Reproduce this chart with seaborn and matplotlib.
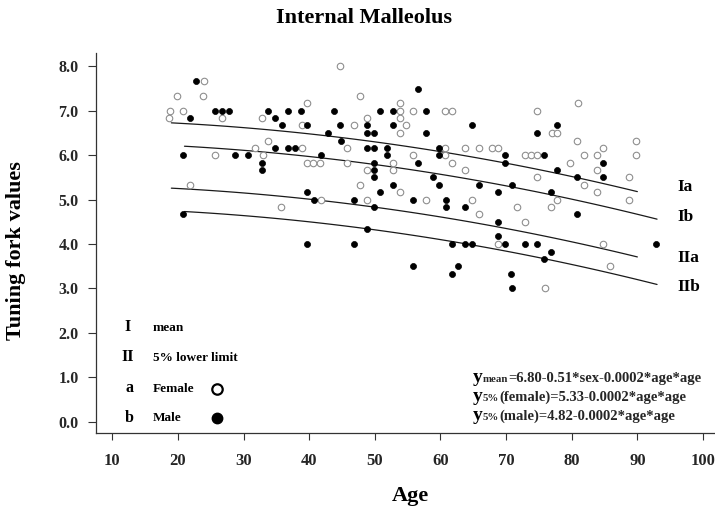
import numpy as np
import pandas as pd
import matplotlib
matplotlib.use("Agg")
import matplotlib.pyplot as plt
import seaborn as sns

# ---------------- data ----------------
female_age = [44.7, 23.9, 19.8, 23.8, 47.7, 39.7, 53.8, 18.8, 20.8, 53.8, 55.8, 18.7, 26.7, 32.8,
              48.8, 53.8, 38.9, 46.8, 54.8, 53.8, 33.8, 31.7, 38.9, 45.8, 25.6, 33.0, 55.8, 39.6,
              40.6, 41.6, 45.8, 52.7, 48.8, 52.7, 21.8, 47.7, 53.8, 41.75, 48.8, 35.7,
              80.9, 60.7, 61.7, 74.7, 77.0, 77.7, 80.8, 89.8, 60.7, 63.7, 65.8, 67.8, 68.8, 84.7,
              60.7, 72.9, 73.75, 74.7, 81.8, 83.8, 89.8, 61.7, 79.7, 63.7, 83.8, 74.7, 88.8, 81.8,
              83.8, 57.8, 64.8, 77.7, 88.8, 71.7, 76.8, 65.8, 72.9, 68.8, 84.7, 85.8, 75.9]
female_val = [8.0, 7.67, 7.33, 7.33, 7.33, 7.17, 7.17, 7.0, 7.0, 7.0, 7.0, 6.83, 6.83, 6.83,
              6.83, 6.83, 6.67, 6.67, 6.67, 6.5, 6.33, 6.17, 6.17, 6.17, 6.0, 6.0, 6.0, 5.83,
              5.83, 5.83, 5.83, 5.83, 5.67, 5.67, 5.33, 5.33, 5.17, 5.0, 5.0, 4.83,
              7.17, 7.0, 7.0, 7.0, 6.5, 6.5, 6.33, 6.33, 6.17, 6.17, 6.17, 6.17, 6.17, 6.17,
              6.0, 6.0, 6.0, 6.0, 6.0, 6.0, 6.0, 5.83, 5.83, 5.67, 5.67, 5.5, 5.5, 5.33,
              5.17, 5.0, 5.0, 5.0, 5.0, 4.83, 4.83, 4.67, 4.5, 4.0, 4.0, 3.5, 3.0]

male_age = [22.7, 56.6, 25.6, 26.7, 27.8, 33.8, 36.8, 38.75, 43.8, 50.8, 52.7, 21.8, 34.8, 35.8,
            39.7, 44.7, 48.8, 52.7, 42.8, 48.8, 49.8, 44.8, 34.8, 36.8, 37.8, 48.8, 49.8, 51.8,
            20.8, 28.7, 30.7, 41.75, 51.8, 32.8, 49.8, 56.6, 32.8, 49.8, 49.8, 52.7, 39.7, 50.8,
            40.7, 46.8, 55.8, 49.8, 20.8, 48.8, 39.7, 46.8, 55.8,
            57.8, 64.8, 77.7, 57.8, 74.7, 59.8, 59.8, 69.8, 75.8, 69.8, 84.7, 77.7, 58.8, 80.8,
            84.7, 59.8, 65.8, 70.85, 68.8, 76.8, 60.8, 60.8, 63.7, 80.8, 68.8, 68.8, 61.7, 63.7,
            64.8, 69.8, 72.9, 74.7, 92.8, 76.8, 75.8, 62.7, 61.7, 70.75, 70.9]
male_val = [7.67, 7.5, 7.0, 7.0, 7.0, 7.0, 7.0, 7.0, 7.0, 7.0, 7.0, 6.83, 6.83, 6.67,
            6.67, 6.67, 6.67, 6.67, 6.5, 6.5, 6.5, 6.33, 6.17, 6.17, 6.17, 6.17, 6.17, 6.17,
            6.0, 6.0, 6.0, 6.0, 6.0, 5.83, 5.83, 5.83, 5.67, 5.67, 5.5, 5.33, 5.17, 5.17,
            5.0, 5.0, 5.0, 4.83, 4.67, 4.33, 4.0, 4.0, 3.5,
            7.0, 6.67, 6.67, 6.5, 6.5, 6.17, 6.0, 6.0, 6.0, 5.83, 5.83, 5.67, 5.5, 5.5,
            5.5, 5.33, 5.33, 5.33, 5.17, 5.17, 5.0, 4.83, 4.83, 4.67, 4.5, 4.17, 4.0, 4.0,
            4.0, 4.0, 4.0, 4.0, 4.0, 3.83, 3.67, 3.5, 3.33, 3.33, 3.0]

# regression curves as printed on the chart
curve_names = ["Ia", "Ib", "IIa", "IIb"]
curve_intercepts = [6.80, 6.29, 5.33, 4.82]
curve_quad_coef = -0.0002
curve_age_start = [19, 21, 19, 21]
curve_age_end = [90, 93, 90, 93]

x_ticks = [10, 20, 30, 40, 50, 60, 70, 80, 90, 100]
y_ticks = [0.0, 1.0, 2.0, 3.0, 4.0, 5.0, 6.0, 7.0, 8.0]

formula_subs = ["mean", "5%", "5%"]
formula_rest = ["=6.80-0.51*sex-0.0002*age*age",
                "(female)=5.33-0.0002*age*age",
                "(male)=4.82-0.0002*age*age"]

# ---------------- style ----------------
sns.set_theme(style="white")
SERIF = ["Liberation Serif", "DejaVu Serif"]
plt.rcParams["font.family"] = SERIF
plt.rcParams["font.weight"] = "bold"

W, H = 715, 511
fig = plt.figure(figsize=(W / 100, H / 100), dpi=100)
ax = fig.add_axes([96 / W, (H - 433.3) / H, (W - 96) / W, (433.3 - 53) / H])

df_f = pd.DataFrame({"age": female_age, "val": female_val})
df_m = pd.DataFrame({"age": male_age, "val": male_val})

sns.scatterplot(data=df_f, x="age", y="val", ax=ax, marker="o", s=22,
                facecolor="white", edgecolor="#8f8f8f", linewidth=0.8, legend=False, zorder=3)
sns.scatterplot(data=df_m, x="age", y="val", ax=ax, marker="o", s=19,
                color="black", edgecolor="black", linewidth=0.5, legend=False, zorder=4)

for name, b0, a0, a1 in zip(curve_names, curve_intercepts, curve_age_start, curve_age_end):
    ages = np.linspace(a0, a1, 60)
    cdf = pd.DataFrame({"age": ages, "val": b0 + curve_quad_coef * ages * ages})
    sns.lineplot(data=cdf, x="age", y="val", ax=ax, color="#1a1a1a", linewidth=0.9,
                 estimator=None, sort=False, legend=False, zorder=2)

ax.set_xlim(7.52, 101.83)
ax.set_ylim(-0.26, 8.30)
ax.set_xticks(x_ticks)
ax.set_xticklabels([str(t) for t in x_ticks])
ax.set_yticks(y_ticks)
ax.set_yticklabels([f"{t:.1f}" for t in y_ticks])
ax.set_xlabel("")
ax.set_ylabel("")
for s in ["top", "right"]:
    ax.spines[s].set_visible(False)
for s in ["left", "bottom"]:
    ax.spines[s].set_color("#333333")
    ax.spines[s].set_linewidth(0.9)
ax.tick_params(axis="x", direction="out", length=5, width=0.8, color="#333333",
               pad=9, labelsize=12, bottom=True)
ax.tick_params(axis="y", direction="out", length=5.5, width=0.8, color="#333333",
               pad=7, labelsize=11.5, left=True)
for lab in ax.get_xticklabels() + ax.get_yticklabels():
    lab.set_fontweight("bold")
    lab.set_family(SERIF)

def ftext(px, py, s, **kw):
    kw.setdefault("family", SERIF)
    kw.setdefault("fontweight", "bold")
    kw.setdefault("color", "black")
    return fig.text(px / W, 1 - py / H, s, **kw)

# titles
ftext(364, 18, "Internal Malleolus", fontsize=16, ha="center", va="center")
ftext(16, 251, "Tuning fork values", fontsize=16, ha="center", va="center", rotation=90)
ftext(410, 496, "Age", fontsize=16, ha="center", va="center")

# curve labels
label_y = [187, 217, 258, 287]
for name, ly in zip(curve_names, label_y):
    ftext(677, ly, name, fontsize=12.5, ha="left", va="center")

# key
ftext(128, 327, "I", fontsize=11.5, ha="center", va="center")
ftext(153, 328, "mean", fontsize=9.5, ha="left", va="center")
ftext(128, 357, "II", fontsize=11.5, ha="center", va="center")
ftext(153, 358, "5% lower limit", fontsize=9.5, ha="left", va="center")
ftext(129, 388, "a", fontsize=11.5, ha="center", va="center")
ftext(153, 389, "Female", fontsize=9.5, ha="left", va="center")
ftext(129, 418, "b", fontsize=11.5, ha="center", va="center")
ftext(153, 418, "Male", fontsize=9.5, ha="left", va="center")
fig.add_artist(plt.Line2D([217 / W], [1 - 389 / H], marker="o", markersize=7.5,
                          markerfacecolor="white", markeredgecolor="black",
                          markeredgewidth=1.6, linestyle="none"))
fig.add_artist(plt.Line2D([217 / W], [1 - 418 / H], marker="o", markersize=7.5,
                          markerfacecolor="black", markeredgecolor="black",
                          markeredgewidth=1.0, linestyle="none"))

# formulas: big "y", small subscript, then the rest
renderer = fig.canvas.get_renderer()
for base_y, sub, rest in zip([382, 401, 420], formula_subs, formula_rest):
    t1 = ftext(473, base_y, "y", fontsize=14, ha="left", va="baseline")
    x1 = t1.get_window_extent(renderer).x1
    t2 = fig.text(x1 / W, 1 - (base_y - 0.5) / H, sub, family=SERIF, fontweight="bold",
                  fontsize=7.8, ha="left", va="baseline")
    x2 = t2.get_window_extent(renderer).x1
    fig.text(x2 / W, 1 - base_y / H, rest, family=SERIF, fontweight="bold",
             fontsize=10.5, ha="left", va="baseline")

fig.savefig("out.png", dpi=100)
